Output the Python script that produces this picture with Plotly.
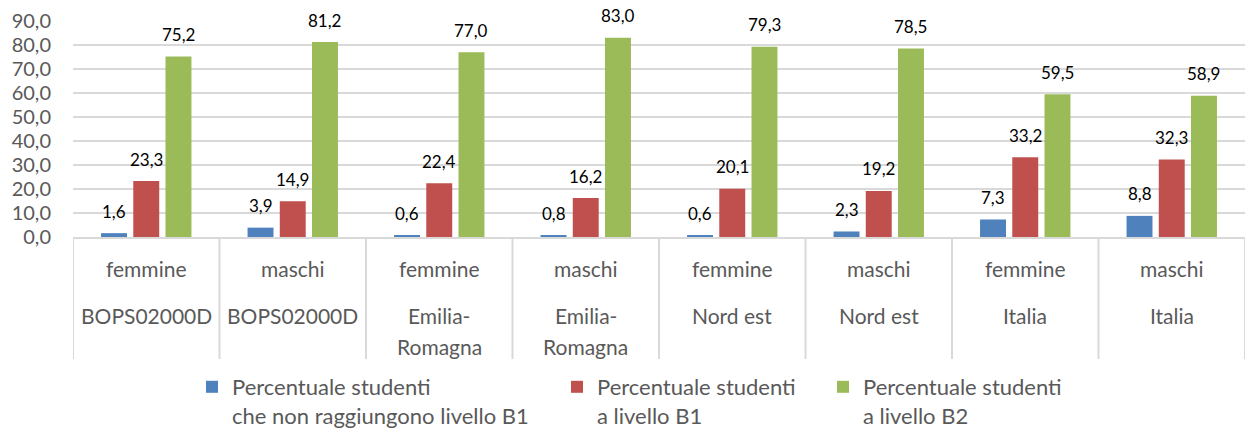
import plotly.graph_objects as go

# ---- data ----
genders = ["femmine", "maschi", "femmine", "maschi", "femmine", "maschi", "femmine", "maschi"]
regions = ["BOPS02000D", "BOPS02000D", "Emilia-Romagna", "Emilia-Romagna",
           "Nord est", "Nord est", "Italia", "Italia"]
series_names = [
    "Percentuale studenti<br>che non raggiungono livello B1",
    "Percentuale studenti<br>a livello B1",
    "Percentuale studenti<br>a livello B2",
]
below_b1 = [1.6, 3.9, 0.6, 0.8, 0.6, 2.3, 7.3, 8.8]
level_b1 = [23.3, 14.9, 22.4, 16.2, 20.1, 19.2, 33.2, 32.3]
level_b2 = [75.2, 81.2, 77.0, 83.0, 79.3, 78.5, 59.5, 58.9]
y_ticks = [0, 10, 20, 30, 40, 50, 60, 70, 80, 90]

# ---- style ----
colors = ["#4f81bd", "#c0504d", "#9bbb59"]
font_family = "Lato"
grey_text = "#595959"
grid_col = "#d9d9d9"
W, H = 1245, 437
bargap, bargroupgap = 0.34, 0.195

series = [below_b1, level_b1, level_b2]
x_pos = list(range(len(genders)))
legend_ids = ["legend", "legend2", "legend3"]

fig = go.Figure()
for i, (vals, name, col) in enumerate(zip(series, series_names, colors)):
    fig.add_trace(go.Bar(
        x=x_pos, y=vals, name=name, marker_color=col,
        legend=legend_ids[i], hoverinfo="y+name",
    ))

# data labels (above each bar), offsets derived from the bar layout
n = len(series)
slot = (1 - bargap) / n
annotations = []
for i, vals in enumerate(series):
    off = (i - (n - 1) / 2) * slot
    for xi, v in zip(x_pos, vals):
        annotations.append(dict(
            x=xi + off, y=v, xref="x", yref="y",
            text=f"{v:.1f}".replace(".", ","), showarrow=False,
            yanchor="middle", yshift=22,
            font=dict(family=font_family, size=17, color="#000000"),
        ))

# category table below the axis
plot_h = H - 21 - 200
for xi, g, r in zip(x_pos, genders, regions):
    annotations.append(dict(
        x=xi, y=0, xref="x", yref="paper", text=g, showarrow=False,
        yanchor="middle", yshift=-31,
        font=dict(family=font_family, size=21, color=grey_text),
    ))
    for k, line in enumerate(r.replace("-", "-\n").split("\n")):
        annotations.append(dict(
            x=xi, y=0, xref="x", yref="paper", text=line, showarrow=False,
            yanchor="middle", yshift=-78 - 31 * k,
            font=dict(family=font_family, size=21, color=grey_text),
        ))

shapes = []
for k in range(len(genders) + 1):
    shapes.append(dict(
        type="line", xref="x", yref="paper",
        x0=k - 0.5, x1=k - 0.5, y0=0, y1=-122 / plot_h,
        line=dict(color=grid_col, width=2),
    ))

legend_x = [192, 557, 823]
legend_common = dict(
    orientation="h", xref="container", yref="container",
    yanchor="bottom", y=0, valign="top",
    font=dict(family=font_family, size=22, color=grey_text),
    bgcolor="rgba(0,0,0,0)", borderwidth=0,
)

fig.update_layout(
    template="none",
    width=W, height=H,
    margin=dict(l=73, r=0, t=21, b=200, pad=0),
    plot_bgcolor="white", paper_bgcolor="white",
    barmode="group", bargap=bargap, bargroupgap=bargroupgap,
    separators=",.",
    font=dict(family=font_family, color=grey_text),
    xaxis=dict(
        range=[-0.5, len(genders) - 0.5], showticklabels=False,
        showgrid=False, zeroline=False, automargin=False,
        showline=True, linecolor=grid_col, linewidth=2,
        fixedrange=True,
    ),
    yaxis=dict(
        range=[0, 90], tickvals=y_ticks, tickformat=".1f",
        showgrid=True, gridcolor=grid_col, gridwidth=2,
        zeroline=False, showline=False, automargin=False,
        ticks="", ticklabelstandoff=21,
        tickfont=dict(family=font_family, size=20, color=grey_text),
        fixedrange=True,
    ),
    annotations=annotations,
    shapes=shapes,
    legend=dict(x=legend_x[0] / W, **legend_common),
    legend2=dict(x=legend_x[1] / W, **legend_common),
    legend3=dict(x=legend_x[2] / W, **legend_common),
    showlegend=True,
)

fig.write_html(
    "out.html",
    config={"displayModeBar": False},
    post_script="document.body.style.margin='0';document.body.style.overflow='hidden';",
)
